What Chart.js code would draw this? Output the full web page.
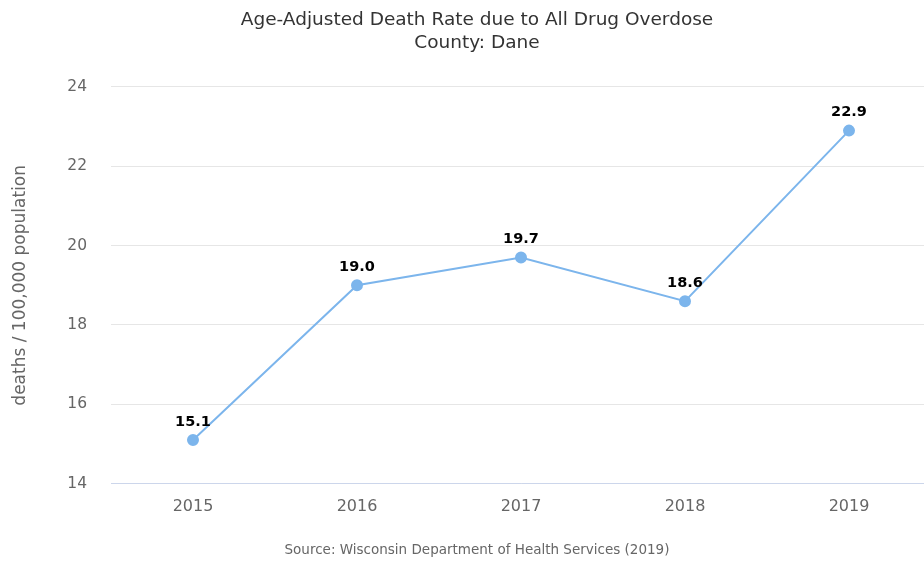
<!DOCTYPE html>
<html>
<head>
<meta charset="utf-8">
<script src="https://cdn.jsdelivr.net/npm/chart.js@4/dist/chart.umd.min.js"></script>
<style>
html,body{margin:0;padding:0;background:#fff;overflow:hidden;}
#wrap{width:954px;height:561px;}
canvas{display:block;}
</style>
</head>
<body>
<div id="wrap"><canvas id="c" width="954" height="561" style="width:954px;height:561px"></canvas></div>
<script>
const categories = ["2015", "2016", "2017", "2018", "2019"];
const rates = [15.1, 19.0, 19.7, 18.6, 22.9];
const yTicks = [14, 16, 18, 20, 22, 24];
const titleLines = ["Age-Adjusted Death Rate due to All Drug Overdose", "County: Dane"];
const sourceText = "Source: Wisconsin Department of Health Services (2019)";
const yTitle = "deaths / 100,000 population";

const FONT = "'DejaVu Sans', 'Lucida Grande', sans-serif";

const labelPlugin = {
  id: 'pointLabels',
  afterDatasetsDraw(chart) {
    const ctx = chart.ctx;
    const meta = chart.getDatasetMeta(0);
    ctx.save();
    ctx.font = "bold 14.5px " + FONT;
    ctx.fillStyle = "#000";
    ctx.textAlign = "center";
    ctx.textBaseline = "middle";
    meta.data.forEach((pt, i) => {
      ctx.fillText(rates[i].toFixed(1), pt.x, pt.y - 18);
    });
    ctx.restore();
  }
};

new Chart(document.getElementById('c'), {
  type: 'line',
  data: {
    labels: categories,
    datasets: [{
      data: rates,
      yAxisID: 'y',
      borderColor: '#7cb5ec',
      backgroundColor: '#7cb5ec',
      borderWidth: 2,
      pointRadius: 5,
      pointBackgroundColor: '#7cb5ec',
      pointBorderColor: '#7cb5ec',
      tension: 0,
      fill: false
    }]
  },
  options: {
    responsive: false,
    animation: false,
    layout: { padding: { left: 0, right: 0, top: 0, bottom: 2 } },
    plugins: {
      legend: { display: false },
      tooltip: { enabled: false },
      title: {
        display: true,
        text: titleLines,
        color: '#333333',
        font: { family: FONT, size: 18.5, weight: 'normal', lineHeight: 1.243 },
        padding: { top: 9, bottom: 32 }
      },
      subtitle: {
        display: true,
        position: 'bottom',
        text: sourceText,
        color: '#666666',
        font: { family: FONT, size: 13.5, weight: 'normal' },
        padding: { top: 12, bottom: 0 }
      }
    },
    scales: {
      x: {
        type: 'category',
        offset: true,
        grid: { display: false, drawTicks: false },
        border: { display: true, color: '#ccd6eb', width: 1 },
        ticks: { color: '#666666', font: { family: FONT, size: 16 }, padding: 14 }
      },
      y: {
        position: 'left',
        min: 14,
        max: 24,
        afterBuildTicks(scale) { scale.ticks = yTicks.map(v => ({ value: v })); },
        afterFit(scale) { scale.width = 111; },
        grid: { color: '#e6e6e6', drawTicks: false },
        border: { display: false },
        ticks: { color: '#666666', font: { family: FONT, size: 15.5 }, padding: 24 },
        title: {
          display: true,
          text: yTitle,
          color: '#666666',
          font: { family: FONT, size: 17 },
          padding: { top: 10, bottom: 0 }
        }
      },
      spacer: {
        position: 'right',
        type: 'linear',
        display: true,
        afterFit(scale) { scale.width = 23; },
        grid: { display: false, drawTicks: false },
        border: { display: false },
        ticks: { display: false }
      }
    }
  },
  plugins: [labelPlugin]
});
</script>
</body>
</html>
